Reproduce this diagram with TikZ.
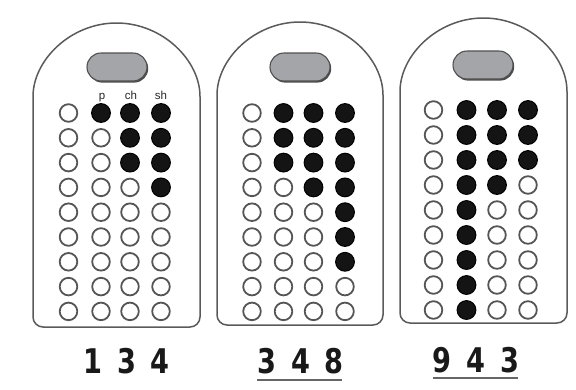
\documentclass[tikz,border=0pt]{standalone}
\usepackage{fontspec}
\usepackage{graphicx}
\usetikzlibrary{shapes.misc,shadows}
\newfontfamily\digitfont[WordSpace=1.55]{DejaVu Sans}
\newfontfamily\lblfont{Liberation Sans}
\definecolor{dotgray}{RGB}{85,85,85}
\definecolor{edgegray}{RGB}{90,90,90}
\definecolor{pillfill}{RGB}{164,165,168}
\definecolor{pilledge}{RGB}{80,80,80}
\newcommand\bigdigits[1]{{\digitfont\bfseries\fontsize{34}{34}\selectfont\scalebox{0.8}[1]{#1}}}
\newcommand\archpanel[4]{%
  \pgfmathsetmacro\pr{(#2-#1)/2}%
  \pgfmathsetmacro\py{#3+\pr}%
  \draw[panelline] (#1,\py) arc[start angle=180,end angle=360,radius=\pr] -- (#2,#4) -- (#1,#4) -- cycle;}
\begin{document}
\begin{tikzpicture}[x=1pt,y=-1pt,
  panelline/.style={draw=edgegray,line width=1.5,rounded corners=10},
  opendot/.style={draw=dotgray,line width=1.8,fill=white},
  fulldot/.style={draw=black,line width=1,fill=black!92},
  pill/.style={rounded rectangle,draw=pilledge,line width=1.1,fill=pillfill,
    minimum width=60,minimum height=28,inner sep=0pt,
    drop shadow={shadow xshift=1.2pt,shadow yshift=-1.6pt,fill=black!70,opacity=1}},
  lbl/.style={font=\lblfont\fontsize{11.5}{11.5}\selectfont,text=black!85,anchor=base,inner sep=0pt},
  num/.style={anchor=base,inner sep=0pt,text=black!90},
  uline/.style={draw=black!60,line width=1.8}]
\useasboundingbox (0,0) rectangle (576,389);

% panels
\archpanel{33}{200}{23}{327}
\archpanel{217}{383}{22}{325}
\archpanel{400}{567}{18}{323}

% pills
\node[pill] (pill1) at (117,67) {};
\node[pill] (pill2) at (300,67) {};
\node[pill] (pill3) at (483,65) {};

% column labels
\node[lbl] (lp) at (102,99) {p};
\node[lbl] (lch) at (131,99) {ch};
\node[lbl] (lsh) at (161,99) {sh};

% dot grids
\foreach \x/\n in {68.5/0,101/1,130/3,161/4}{
  \foreach \i in {0,...,8}{
    \pgfmathsetmacro\yy{113+24.8*\i}
    \ifnum\i<\n \fill[fulldot] (\x,\yy) circle[radius=9.4];
    \else \draw[opendot] (\x,\yy) circle[radius=8.8]; \fi
  }}
\foreach \x/\n in {252/0,283.5/3,313.5/4,345/7}{
  \foreach \i in {0,...,8}{
    \pgfmathsetmacro\yy{113+24.8*\i}
    \ifnum\i<\n \fill[fulldot] (\x,\yy) circle[radius=9.4];
    \else \draw[opendot] (\x,\yy) circle[radius=8.8]; \fi
  }}
\foreach \x/\n in {433.5/0,466.5/9,497/4,528/3}{
  \foreach \i in {0,...,8}{
    \pgfmathsetmacro\yy{110+25*\i}
    \ifnum\i<\n \fill[fulldot] (\x,\yy) circle[radius=9.4];
    \else \draw[opendot] (\x,\yy) circle[radius=8.8]; \fi
  }}

% numbers
\node[num] (n1) at (126.5,373) {\bigdigits{1 3 4}};
\node[num] (n2) at (300.5,373) {\bigdigits{3 4 8}};
\node[num] (n3) at (476,372) {\bigdigits{9 4 3}};

% underlines
\coordinate (u2a) at (257,380);
\coordinate (u2b) at (342,380);
\coordinate (u3a) at (433,378);
\coordinate (u3b) at (518,378);
\draw[uline] (u2a) -- (u2b);
\draw[uline] (u3a) -- (u3b);
\end{tikzpicture}
\end{document}
